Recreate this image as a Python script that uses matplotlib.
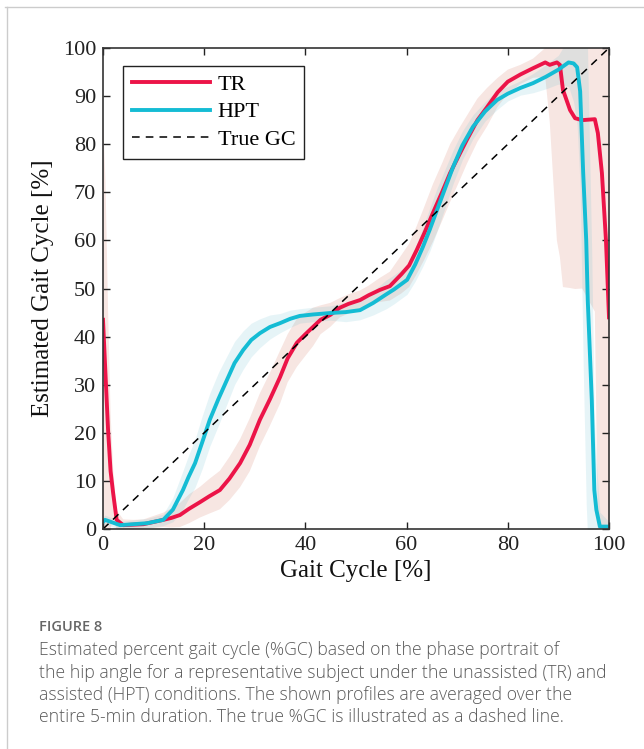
import numpy as np
import matplotlib
matplotlib.use("Agg")
import matplotlib.pyplot as plt
from matplotlib.lines import Line2D

# ---------------- data ----------------
tr_x = [0, 0.5, 1, 1.5, 2, 2.7, 4, 6, 8, 11.9, 13.5, 15.2, 17, 19.2, 21, 23.1, 25,
        27.1, 29, 31, 33, 35, 36.5, 38.3, 40, 41.5, 43, 44.9, 46.8, 48.5, 50.8,
        52.5, 54.7, 56.7, 59, 60.5, 62, 63.5, 65.2, 67, 68.6, 70.5, 71.9, 74,
        75.9, 78, 80, 82.5, 85, 87.4, 88.3, 89.7, 90.3, 90.9, 92.3, 93.3, 94.7,
        97.2, 97.8, 98.6, 99.4, 100]
tr_y = [43.5, 32, 20.6, 12, 7.5, 1.9, 0.8, 0.9, 1.0, 1.9, 2.3, 2.9, 4.2, 5.6, 6.8, 8.1, 10.5,
        13.7, 17.5, 22.7, 27, 31.6, 35.5, 38.7, 40.5, 42, 43.5, 44.5, 46.0, 46.8, 47.6,
        48.6, 49.7, 50.5, 53, 54.8, 58, 61.5, 65.7, 70, 74, 78, 80.9, 85,
        87.7, 90.8, 93.0, 94.5, 95.8, 97, 96.5, 97, 96.5, 91.3, 87.1, 85.4, 85,
        85.2, 82.3, 74, 60, 44]
tr_sd = [42, 40, 25, 12, 5, 2, 1.2, 1.0, 1.0, 1.5, 2, 2.5, 3, 3.2, 3.6, 4, 4.5,
         5, 5.5, 5.5, 5.5, 5.5, 5, 5, 4.5, 4, 3, 2.5, 2, 2, 2,
         2, 2.5, 3, 4, 4.5, 5, 5.5, 6, 6, 6, 5.5, 5, 4.5,
         4, 3, 2.5, 2, 2, 3, 12, 37, 40, 41, 37, 35.5, 35,
         40, 82, 78, 67, 56]

hpt_x = [0, 0.4, 3.4, 8.7, 11.9, 13.8, 15.8, 16.9, 18.2, 19.6, 21.1, 22.8, 24.5, 26,
         27.7, 29.3, 31, 33, 35, 37, 38.9, 41.5, 44.9, 48, 50.8, 53.4, 56, 57.5,
         60.1, 61.7, 63.2, 64.6, 66, 67.6, 69.2, 71, 73.1, 75.5, 77.9, 80, 82.5,
         85, 87.5, 90, 92, 93, 93.7, 94.3, 94.9, 95.5, 95.8, 96.6, 97.1, 97.5, 98.2, 100]
hpt_y = [1.5, 1.9, 0.8, 1.2, 1.9, 4, 8.1, 10.8, 13.7, 18, 22.7, 27, 31, 34.5,
         37.2, 39.3, 40.7, 42, 42.8, 43.7, 44.3, 44.6, 44.9, 45.1, 45.5, 47, 48.8, 49.8,
         51.8, 55, 58.6, 62.3, 66.3, 70.8, 75.3, 79.7, 83.6, 86.8, 89.2, 90.5, 91.7,
         92.7, 94, 95.5, 97, 96.8, 96, 91, 74, 60, 47.6, 26.8, 8.1, 4, 0.5, 0.5]
hpt_sd = [1, 1, 0.8, 1, 1.2, 2.5, 4, 4.5, 5, 5.5, 5.5, 5.5, 5, 4.5,
          4, 3.5, 3, 2.5, 2, 1.8, 1.5, 1.5, 1.5, 2, 2, 2.5, 3, 3,
          3, 3.5, 4, 4.5, 4.5, 4, 3.5, 3, 2.5, 2, 2, 1.5, 1.5,
          2, 2.5, 3, 5, 8, 12, 20, 40, 55, 50, 30, 15, 10, 3, 1]

true_x = [0, 100]
true_y = [0, 100]

series_labels = ["TR", "HPT", "True GC"]
ticks = [0, 20, 40, 60, 80, 100]
yticks = [0, 10, 20, 30, 40, 50, 60, 70, 80, 90, 100]

caption_title = "FIGURE 8"
caption_lines = [
    "Estimated percent gait cycle (%GC) based on the phase portrait of",
    "the hip angle for a representative subject under the unassisted (TR) and",
    "assisted (HPT) conditions. The shown profiles are averaged over the",
    "entire 5-min duration. The true %GC is illustrated as a dashed line.",
]

# ---------------- figure ----------------
W, H = 644, 749
fig = plt.figure(figsize=(W / 100, H / 100), dpi=100)
ax = fig.add_axes([103 / W, 1 - 529 / H, 506 / W, 481 / H])

serif = ["Liberation Serif", "DejaVu Serif"]
red = "#ec1448"
cyan = "#14bcd4"

tr_x_a, tr_y_a, tr_sd_a = map(np.array, (tr_x, tr_y, tr_sd))
hp_x_a, hp_y_a, hp_sd_a = map(np.array, (hpt_x, hpt_y, hpt_sd))

ax.fill_between(tr_x_a, tr_y_a - tr_sd_a, tr_y_a + tr_sd_a, color="#d98270",
                alpha=0.2, lw=0)
l1, = ax.plot(tr_x_a, tr_y_a, color=red, lw=2.8, solid_joinstyle="round")
ax.fill_between(hp_x_a, hp_y_a - hp_sd_a, hp_y_a + hp_sd_a, color="#5cb8cc",
                alpha=0.15, lw=0)
l2, = ax.plot(hp_x_a, hp_y_a, color=cyan, lw=2.8, solid_joinstyle="round")
l3, = ax.plot(true_x, true_y, color="black", lw=1.1, dashes=(5, 4))

ax.set_xlim(0, 100)
ax.set_ylim(0, 100)
ax.set_xticks(ticks)
ax.set_yticks(yticks)
ax.tick_params(direction="in", length=5, width=1, top=True, right=True,
               labelsize=16, colors="#222222", pad=5)
for lab in ax.get_xticklabels() + ax.get_yticklabels():
    lab.set_fontfamily(serif)
for s in ax.spines.values():
    s.set_linewidth(1.2)
    s.set_color("#333333")

ax.set_xlabel("Gait Cycle [%]", fontsize=18, family=serif, color="#111111", labelpad=4)
ax.set_ylabel("Estimated Gait Cycle [%]", fontsize=18, family=serif, color="#111111",
              labelpad=6)

leg = ax.legend([l1, l2, l3], series_labels, loc="upper left",
                bbox_to_anchor=(0.04, 0.963), fancybox=False, framealpha=1,
                edgecolor="#222222", handlelength=3.5, handletextpad=0.35,
                borderpad=0.4, labelspacing=0.3, borderaxespad=0,
                prop={"family": serif, "size": 16})
leg.get_frame().set_linewidth(1.0)

# page frame lines
fig.add_artist(Line2D([5 / W, 1], [1 - 7 / H, 1 - 7 / H], color="#cccccc", lw=1))
fig.add_artist(Line2D([7 / W, 7 / W], [0, 1 - 7 / H], color="#cccccc", lw=1))

# caption
cap_font = ["Open Sans", "Noto Sans", "DejaVu Sans"]
fig.text(39 / W, 1 - 627 / H, caption_title, fontsize=10.5, color="#666666",
         family=cap_font, fontweight="semibold", va="center")
for i, line in enumerate(caption_lines):
    fig.text(39 / W, 1 - (650 + 22.5 * i) / H, line, fontsize=12.7, color="#5a5a5a",
             family=cap_font, fontweight="light", va="center")

fig.savefig("out.png", dpi=100)
